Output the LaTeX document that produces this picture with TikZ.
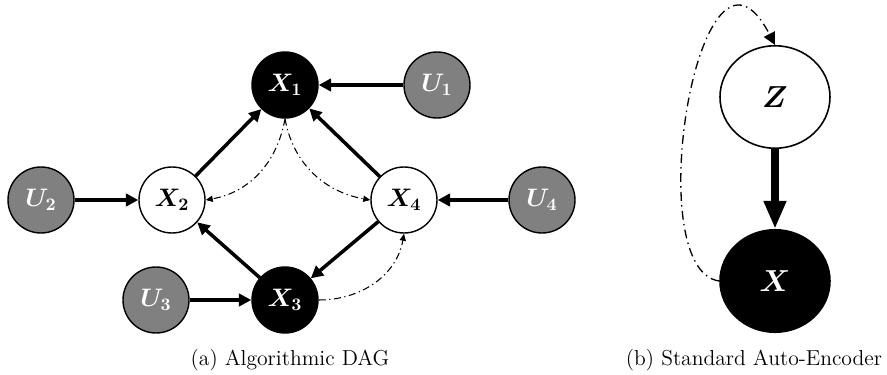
\documentclass[tikz,border=0pt]{standalone}
\usepackage{amsmath}
\usetikzlibrary{arrows.meta, positioning, shapes.geometric}

\begin{document}
\begin{tikzpicture}[
  every node/.style={font=\fontsize{14}{16}\selectfont},
  var/.style={circle, draw=black, line width=0.8pt, minimum size=1.32cm, inner sep=0pt},
  obs/.style={var, fill=black, text=white},
  lat/.style={var, fill=white},
  noise/.style={var, fill=gray, text=white},
  big/.style={ellipse, draw=black, line width=0.9pt, minimum width=2.2cm,
              minimum height=2.05cm, inner sep=0pt, font=\fontsize{19}{21}\selectfont},
  cause/.style={line width=2pt, -{Triangle[length=7pt, width=7pt]}},
  infer/.style={line width=0.6pt, dash pattern=on 4pt off 2pt on 0.7pt off 2pt,
                -{Triangle[length=4pt, width=3.5pt]}},
  caption/.style={font=\fontsize{12.3}{14}\selectfont}
]
\useasboundingbox (0,0) rectangle (17.74,7.5);

% (a) algorithmic DAG
\node[obs]   (x1) at (5.70,5.80) {$\boldsymbol{X_1}$};
\node[noise] (u1) at (8.74,5.80) {$\boldsymbol{U_1}$};
\node[noise] (u2) at (0.82,3.50) {$\boldsymbol{U_2}$};
\node[lat]   (x2) at (3.44,3.50) {$\boldsymbol{X_2}$};
\node[lat]   (x4) at (8.08,3.50) {$\boldsymbol{X_4}$};
\node[noise] (u4) at (10.84,3.50) {$\boldsymbol{U_4}$};
\node[noise] (u3) at (3.12,1.50) {$\boldsymbol{U_3}$};
\node[obs]   (x3) at (5.70,1.50) {$\boldsymbol{X_3}$};

% causal edges
\foreach \a/\b in {u1/x1, u2/x2, u4/x4, u3/x3, x2/x1, x4/x1, x3/x2, x4/x3}{
  \draw[cause] (\a) -- (\b);
}

% inference edges
\draw[infer] (x1.south) to[out=-100, in=10] (x2.east);
\draw[infer] (x1.south) to[out=-80, in=170] (x4.west);
\draw[infer] (x3.east) to[out=0, in=-100] (x4.south);

\node[caption] (capa) at (5.80,0.30) {(a) Algorithmic DAG};

% (b) standard auto-encoder
\node[big, fill=white] (z) at (15.50,5.56) {$\boldsymbol{Z}$};
\node[big, fill=black, text=white] (x) at (15.50,1.88) {$\boldsymbol{X}$};

\draw[line width=4.5pt, -{Triangle[length=16pt, width=12pt]}] (z) -- (x);
\draw[line width=0.75pt, dash pattern=on 5pt off 2.5pt on 0.8pt off 2.5pt,
      -{Triangle[length=7pt, width=7pt]}]
  (x.west) .. controls +(-1.62,0.22) and +(-1.5,2.9) .. (z.north);

\node[caption] (capb) at (15.08,0.30) {(b) Standard Auto-Encoder};

\end{tikzpicture}
\end{document}
